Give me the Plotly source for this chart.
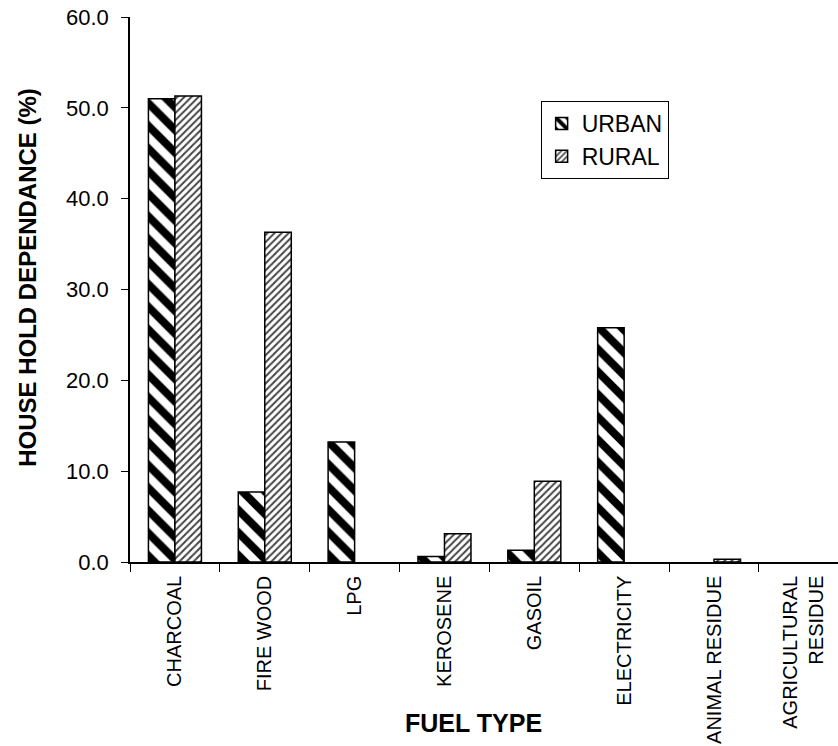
import plotly.graph_objects as go

categories = ["CHARCOAL", "FIRE WOOD", "LPG", "KEROSENE", "GASOIL",
              "ELECTRICITY", "ANIMAL RESIDUE", "AGRICULTURAL<br>RESIDUE"]
urban = [51.0, 7.7, 13.2, 0.6, 1.3, 25.8, 0.0, 0.0]
rural = [51.3, 36.3, 0.0, 3.1, 8.9, 0.0, 0.3, 0.0]
y_ticks = [0, 10, 20, 30, 40, 50, 60]
y_ticklabels = ["0.0", "10.0", "20.0", "30.0", "40.0", "50.0", "60.0"]

FONT = "Liberation Sans, Arial, sans-serif"


def outline(values):
    return [1.5 if v > 0 else 0 for v in values]


fig = go.Figure()
fig.add_trace(go.Bar(
    name="URBAN", x=categories, y=urban,
    marker=dict(color="white", line=dict(color="black", width=outline(urban)),
                pattern=dict(shape="\\", fgcolor="black", bgcolor="white",
                             fgopacity=1, size=16, solidity=0.5)),
))
fig.add_trace(go.Bar(
    name="RURAL", x=categories, y=rural,
    marker=dict(color="white", line=dict(color="black", width=outline(rural)),
                pattern=dict(shape="/", fgcolor="#444444", bgcolor="white",
                             fgopacity=1, size=5, solidity=0.4)),
))

fig.update_layout(
    width=838, height=746,
    margin=dict(l=130, r=0, t=17, b=184),
    paper_bgcolor="white", plot_bgcolor="white",
    barmode="group", bargap=0.41, bargroupgap=0,
    font=dict(family=FONT, color="black"),
    showlegend=True,
    legend=dict(x=0.58, y=0.846, xanchor="left", yanchor="top",
                bordercolor="black", borderwidth=1, bgcolor="white",
                font=dict(size=23, family=FONT)),
    xaxis=dict(range=[-0.5, 7.38], showline=True, linecolor="black", linewidth=1.5,
               ticks="outside", tickson="boundaries", ticklen=8, tickcolor="black",
               tickangle=-90, tickfont=dict(size=20, family=FONT),
               ticklabelstandoff=4,
               showgrid=False, zeroline=False),
    yaxis=dict(range=[0, 60], tickvals=y_ticks, ticktext=y_ticklabels,
               showline=True, linecolor="black", linewidth=1.5,
               ticks="outside", ticklen=7, tickcolor="black",
               tickfont=dict(size=22, family=FONT),
               ticklabelstandoff=8,
               showgrid=False, zeroline=False),
    annotations=[
        dict(text="<b>HOUSE HOLD DEPENDANCE (%)</b>", xref="paper", yref="paper",
             x=-0.145, y=0.522, textangle=-90, showarrow=False,
             font=dict(size=24, family=FONT), xanchor="center", yanchor="middle"),
        dict(text="<b>FUEL TYPE</b>", xref="paper", yref="paper",
             x=0.485, y=-0.295, showarrow=False,
             font=dict(size=25, family="Liberation Sans Narrow, Arial Narrow, " + FONT),
             xanchor="center", yanchor="middle"),
    ],
)

fig.write_html("out.html")
